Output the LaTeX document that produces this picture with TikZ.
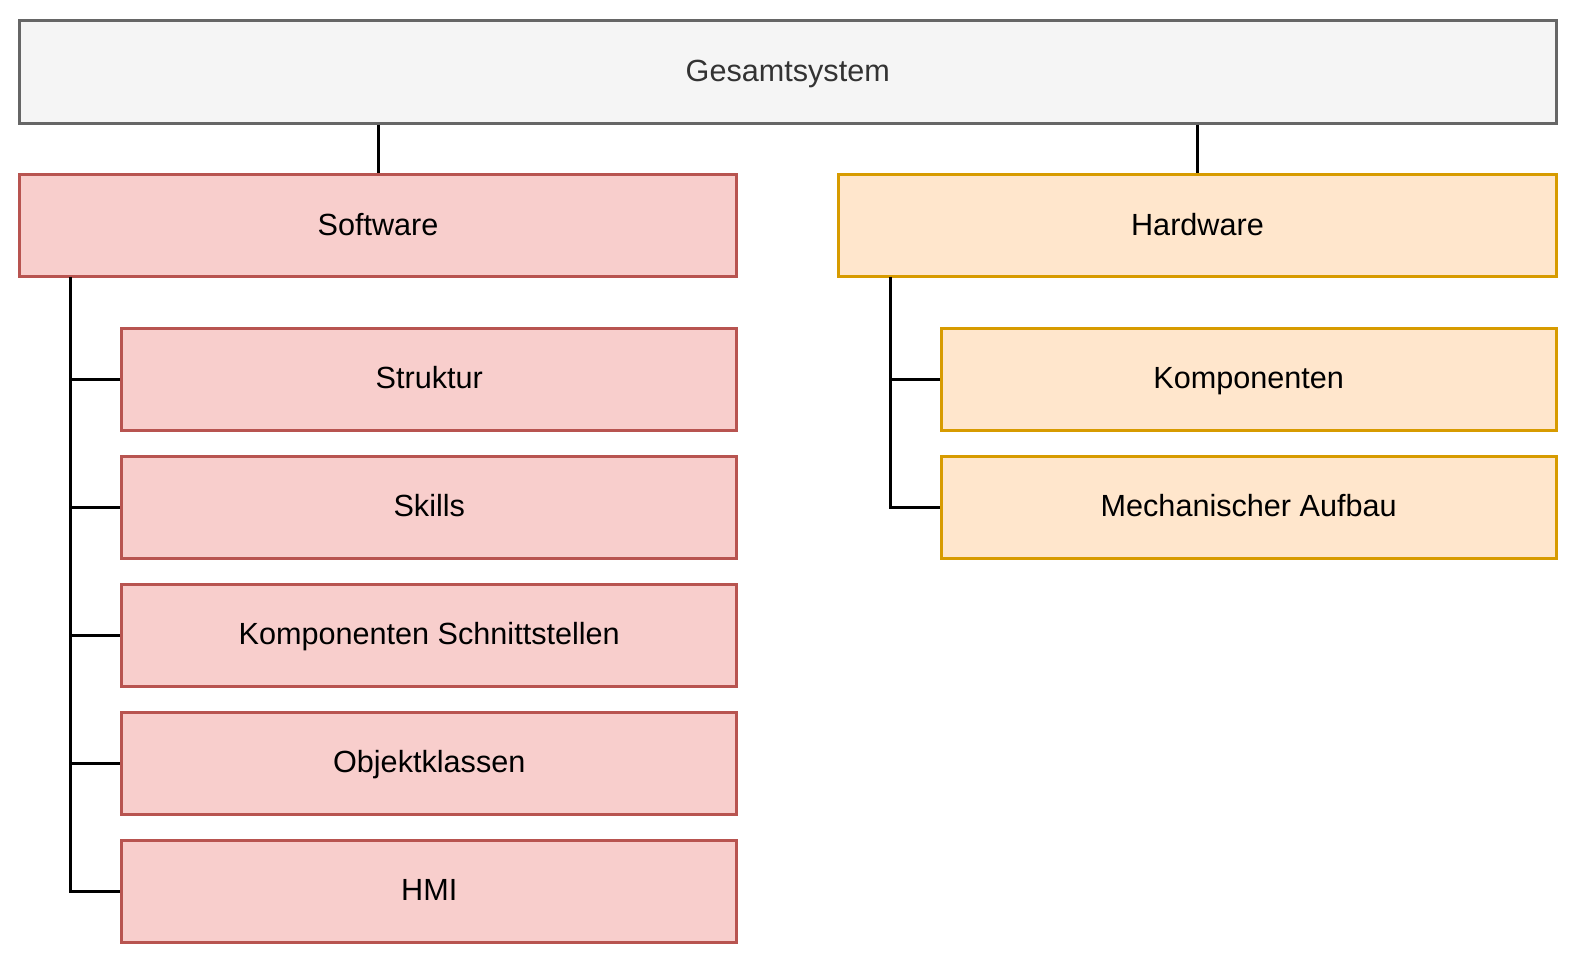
\documentclass[tikz,border=0pt]{standalone}
\usepackage{fontspec}
\setmainfont{Liberation Sans}
\definecolor{topfill}{HTML}{F5F5F5}
\definecolor{topline}{HTML}{666666}
\definecolor{toptext}{HTML}{333333}
\definecolor{swfill}{HTML}{F8CECC}
\definecolor{swline}{HTML}{B85450}
\definecolor{hwfill}{HTML}{FFE6CC}
\definecolor{hwline}{HTML}{D79B00}
\tikzset{
  box/.style={draw,line width=1.5pt,inner sep=0pt,minimum height=51.2pt,
    text height=12pt,text depth=2.5pt,
    font=\fontsize{15.3}{18}\selectfont},
  topbox/.style={box,fill=topfill,draw=topline,text=toptext,minimum width=768pt},
  swbox/.style={box,fill=swfill,draw=swline},
  hwbox/.style={box,fill=hwfill,draw=hwline},
  link/.style={draw=black,line width=1.5pt}
}
\begin{document}
\begin{tikzpicture}[x=12.8pt,y=-12.8pt]
\useasboundingbox (-0.762,-0.8125) rectangle (61.016,36.727);
% Gesamtsystem
\node[topbox] (gesamt) at (30,2) {Gesamtsystem};

% Software
\node[swbox,minimum width=358.4pt] (software) at (14,8) {Software};
\node[swbox,minimum width=307.2pt] (struktur) at (16,14) {Struktur};
\node[swbox,minimum width=307.2pt] (skills) at (16,19) {Skills};
\node[swbox,minimum width=307.2pt] (schnitt) at (16,24) {Komponenten Schnittstellen};
\node[swbox,minimum width=307.2pt] (objekt) at (16,29) {Objektklassen};
\node[swbox,minimum width=307.2pt] (hmi) at (16,34) {HMI};

% Hardware
\node[hwbox,minimum width=358.4pt] (hardware) at (46,8) {Hardware};
\node[hwbox,minimum width=307.2pt] (komp) at (48,14) {Komponenten};
\node[hwbox,minimum width=307.2pt] (mech) at (48,19) {Mechanischer Aufbau};

% connectors
\draw[link] (software.north |- gesamt.south) -- (software.north);
\draw[link] (hardware.north |- gesamt.south) -- (hardware.north);
\coordinate (swtrunk) at (2,10);
\coordinate (hwtrunk) at (34,10);
\draw[link] (swtrunk) |- (hmi.west);
\foreach \n in {struktur,skills,schnitt,objekt}
  \draw[link] (swtrunk |- \n.west) -- (\n.west);
\draw[link] (hwtrunk) |- (mech.west);
\draw[link] (hwtrunk |- komp.west) -- (komp.west);
\end{tikzpicture}
\end{document}
